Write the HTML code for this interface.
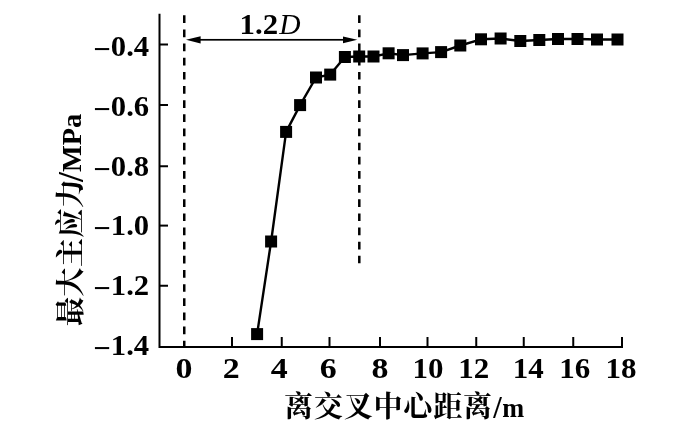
<!DOCTYPE html>
<html lang="zh"><head><meta charset="utf-8"><title>最大主应力 - 离交叉中心距离</title>
<style>
html,body{margin:0;padding:0;background:#fff;}
body{width:679px;height:440px;overflow:hidden;}
svg{display:block;will-change:transform;}
text{font-family:"Liberation Serif",serif;font-weight:bold;font-size:29.5px;fill:#000;}
.it{font-style:italic;font-weight:normal;}
.cjk{font-family:"Liberation Serif","Noto Serif CJK SC",serif;font-weight:bold;}
</style></head><body>
<svg width="679" height="440" viewBox="0 0 679 440">
<rect width="679" height="440" fill="#fff"/>
<g stroke="#000" stroke-width="2" fill="none" stroke-linecap="butt">
<path d="M159.5 13.8V347.1H623"/>
<path d="M159.5 44.5H168"/>
<path d="M159.5 105H168"/>
<path d="M159.5 166.25H168"/>
<path d="M159.5 225.6H168"/>
<path d="M159.5 285.75H168"/>
<path d="M232 347.1V337"/>
<path d="M281.75 347.1V337"/>
<path d="M329.5 347.1V337"/>
<path d="M380 347.1V337"/>
<path d="M427.5 347.1V337"/>
<path d="M476.25 347.1V337"/>
<path d="M523.75 347.1V337"/>
<path d="M573.25 347.1V337"/>
<path d="M622 347.1V337"/>
</g>
<g stroke="#000" stroke-width="2.5" fill="none" stroke-dasharray="7.7 6.45">
<path d="M184.25 15.3V347.1"/>
<path d="M359.3 15.3V263.2"/>
</g>
<g fill="#000" stroke="none">
<rect x="195" y="38.95" width="152" height="1.7"/>
<path d="M186 39.8L200.6 36.2V43.4Z"/>
<path d="M357.3 39.8L343 36.4V43.2Z"/>
</g>
<polyline fill="none" stroke="#000" stroke-width="2.4" stroke-linejoin="round" points="257.1,334.1 271.1,241.5 286.1,131.9 300.1,105.1 316,77.5 330.2,74.6 344.9,57.0 359.2,56.5 373.5,56.5 388.6,53.3 403,55.1 422.6,53.4 441.1,52.1 460.3,45.5 481,39.3 500.6,38.5 520.3,41 539.3,40 558,39 577.5,39 597,39.5 617.5,39.5"/>
<g fill="#000">
<rect x="251.10" y="328.10" width="12.0" height="12.0"/>
<rect x="265.10" y="235.50" width="12.0" height="12.0"/>
<rect x="280.10" y="125.90" width="12.0" height="12.0"/>
<rect x="294.10" y="99.10" width="12.0" height="12.0"/>
<rect x="310.00" y="71.50" width="12.0" height="12.0"/>
<rect x="324.20" y="68.60" width="12.0" height="12.0"/>
<rect x="338.90" y="51.00" width="12.0" height="12.0"/>
<rect x="353.20" y="50.50" width="12.0" height="12.0"/>
<rect x="367.50" y="50.50" width="12.0" height="12.0"/>
<rect x="382.60" y="47.30" width="12.0" height="12.0"/>
<rect x="397.00" y="49.10" width="12.0" height="12.0"/>
<rect x="416.60" y="47.40" width="12.0" height="12.0"/>
<rect x="435.10" y="46.10" width="12.0" height="12.0"/>
<rect x="454.30" y="39.50" width="12.0" height="12.0"/>
<rect x="475.00" y="33.30" width="12.0" height="12.0"/>
<rect x="494.60" y="32.50" width="12.0" height="12.0"/>
<rect x="514.30" y="35.00" width="12.0" height="12.0"/>
<rect x="533.30" y="34.00" width="12.0" height="12.0"/>
<rect x="552.00" y="33.00" width="12.0" height="12.0"/>
<rect x="571.50" y="33.00" width="12.0" height="12.0"/>
<rect x="591.00" y="33.50" width="12.0" height="12.0"/>
<rect x="611.50" y="33.50" width="12.0" height="12.0"/>
</g>
<text transform="translate(149.2 56.00) scale(1.04 1)" text-anchor="end"><tspan dy="3">−</tspan><tspan dy="-3">0.4</tspan></text>
<text transform="translate(149.2 115.80) scale(1.04 1)" text-anchor="end"><tspan dy="3">−</tspan><tspan dy="-3">0.6</tspan></text>
<text transform="translate(149.2 175.60) scale(1.04 1)" text-anchor="end"><tspan dy="3">−</tspan><tspan dy="-3">0.8</tspan></text>
<text transform="translate(149.2 235.40) scale(1.04 1)" text-anchor="end"><tspan dy="3">−</tspan><tspan dy="-3">1.0</tspan></text>
<text transform="translate(149.2 295.20) scale(1.04 1)" text-anchor="end"><tspan dy="3">−</tspan><tspan dy="-3">1.2</tspan></text>
<text transform="translate(149.2 355.00) scale(1.04 1)" text-anchor="end"><tspan dy="3">−</tspan><tspan dy="-3">1.4</tspan></text>
<text transform="translate(184.0 378.3) scale(1.15 1)" text-anchor="middle">0</text>
<text transform="translate(231.2 378.3) scale(1.15 1)" text-anchor="middle">2</text>
<text transform="translate(279.2 378.3) scale(1.15 1)" text-anchor="middle">4</text>
<text transform="translate(328.3 378.3) scale(1.15 1)" text-anchor="middle">6</text>
<text transform="translate(380 378.3) scale(1.15 1)" text-anchor="middle">8</text>
<text transform="translate(427.9 378.3) scale(1.05 1)" text-anchor="middle">10</text>
<text transform="translate(473.8 378.3) scale(1.05 1)" text-anchor="middle">12</text>
<text transform="translate(528.2 378.3) scale(1.05 1)" text-anchor="middle">14</text>
<text transform="translate(574.7 378.3) scale(1.05 1)" text-anchor="middle">16</text>
<text transform="translate(620.9 378.3) scale(1.05 1)" text-anchor="middle">18</text>
<text transform="translate(239.6 34.1) scale(1.045 1)">1.2</text>
<text class="it" x="279.2" y="34.1">D</text>
<text class="cjk" x="284" y="417" textLength="208" lengthAdjust="spacing" style="font-size:29px">离交叉中心距离</text>
<text x="493.2" y="417.6" style="font-size:30.5px">/</text>
<text transform="translate(502.2 417.4) scale(0.93 1)" style="font-size:28.3px">m</text>
<text class="cjk" transform="translate(80.9 326) rotate(-90)" textLength="147" lengthAdjust="spacing" style="font-size:29px">最大主应力</text>
<text transform="translate(83.0 182.0) rotate(-90)" style="font-size:36px">/</text>
<text transform="translate(80.9 171.9) rotate(-90)" style="font-size:28.3px">MPa</text>
</svg></body></html>
